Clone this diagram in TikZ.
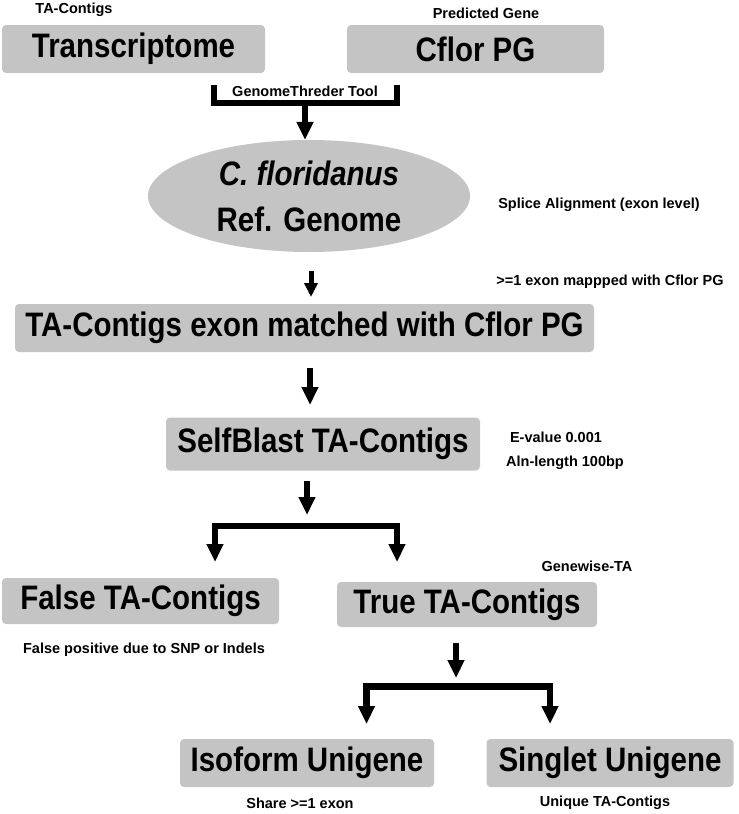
\documentclass[tikz,border=0pt]{standalone}
\usepackage{fontspec}
\usepackage{graphicx}
\setmainfont{Liberation Sans}
\usetikzlibrary{arrows.meta,shapes.geometric}
\definecolor{boxgray}{RGB}{196,196,196}
\newcommand{\tall}[1]{\raisebox{-1.5pt}{\scalebox{1}[1.15]{#1}}}
\tikzset{
  box/.style={fill=boxgray,rounded corners=4pt,inner sep=0pt,font=\fontsize{29.5}{34}\selectfont\bfseries},
  note/.style={inner sep=0pt,font=\fontsize{14.5}{17}\selectfont\bfseries},
  arr/.style={line width=6.5pt,-{Triangle[width=16pt,length=18pt]}},
  smallarr/.style={line width=5pt,-{Triangle[width=13pt,length=14pt]}},
  brk/.style={line width=6.5pt,line join=miter,line cap=butt},
}
\begin{document}
\begin{tikzpicture}[x=1pt,y=-1pt]
\useasboundingbox (0,0) rectangle (739,814);
%\draw[step=50,very thin,color=gray] (0,0) grid (739,814);
% inputs
\node[box,minimum width=263pt,minimum height=48pt] (trans) at (133.5,49) {\tall{Transcriptome}};
\node[box,minimum width=257pt,minimum height=48pt] (cflor) at (475.5,49) {\tall{Cflor PG}};
\node[note] (tacont) at (74,10) {TA-Contigs};
\node[note] (pred) at (486,13) {Predicted Gene};
\coordinate (bl) at (214,85);
\coordinate (br) at (397,85);
\draw[brk] (bl) |- (br |- 0,103) -- (br);
\node[note] (gth) at (305,91) {GenomeThreder Tool};
% genome
\node[ellipse,fill=boxgray,minimum width=322pt,minimum height=112pt,inner sep=0pt,
  align=center,font=\fontsize{29.5}{46}\selectfont\bfseries] (ref) at (309,196)
  {\raisebox{-3pt}{\tall{\textit{C. floridanus}}}\\\raisebox{-3pt}{\tall{Ref. Genome}}};
\coordinate (a1) at (305,106);
\draw[arr] (a1) -- (a1 |- ref.north);
\node[note] (splice) at (599,205) {Splice Alignment (exon level)};
% mapping
\node[box,minimum width=579pt,minimum height=48pt] (match) at (304.5,328) {\tall{TA-Contigs exon matched with Cflor PG}};
\coordinate (a2) at (311,271);
\draw[smallarr] (a2) -- (a2 |- 0,297);
\node[note] (mapped) at (610,282) {>=1 exon mappped with Cflor PG};
\coordinate (a3) at (310,368);
\draw[arr] (a3) -- (a3 |- 0,405);
% selfblast
\node[box,minimum width=314pt,minimum height=53pt] (self) at (323,444) {\tall{SelfBlast TA-Contigs}};
\node[note] (evalue) at (556,437) {E-value 0.001};
\node[note] (alnlen) at (565,463) {Aln-length 100bp};
\coordinate (a4) at (307,481);
\coordinate (fk1) at (307,526);
\draw[arr] (a4) -- (0,515 -| a4);
\coordinate (fl) at (215,562);
\coordinate (fr) at (397,562);
\draw[arr,line join=miter] (fk1) -| (fl);
\draw[arr,line join=miter] (fk1) -| (fr);
\node[note] (genewise) at (587,566) {Genewise-TA};
% split
\node[box,minimum width=277pt,minimum height=46pt] (false) at (140.5,601) {\tall{False TA-Contigs}};
\node[box,minimum width=260pt,minimum height=45pt] (true) at (467,604.5) {\tall{True TA-Contigs}};
\node[note] (fpos) at (144,650) {False positive due to SNP or Indels};
\coordinate (a5) at (456,643);
\draw[arr] (a5) -- (0,678 -| a5);
\coordinate (fk2) at (456,686.5);
\coordinate (il) at (366.5,724);
\coordinate (ir) at (550,724);
\draw[arr,line join=miter] (fk2) -| (il);
\draw[arr,line join=miter] (fk2) -| (ir);
% unigenes
\node[box,minimum width=254pt,minimum height=48pt] (iso) at (307,763) {\tall{Isoform Unigene}};
\node[box,minimum width=247pt,minimum height=48pt] (single) at (610,763) {\tall{Singlet Unigene}};
\node[note] (share) at (300,803) {Share >=1 exon};
\node[note] (unique) at (605,803) {Unique TA-Contigs};
\end{tikzpicture}
\end{document}
